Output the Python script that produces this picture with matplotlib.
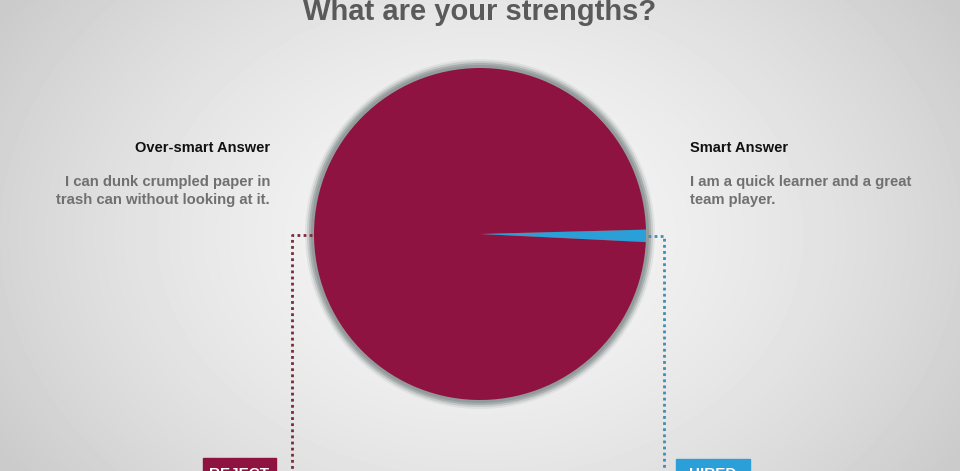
import matplotlib.pyplot as plt
from matplotlib.patches import Circle, Rectangle
import numpy as np

# chart data
title = 'What are your strengths?'
answers = ['Over-smart Answer', 'Smart Answer']
details = ['I can dunk crumpled paper in\ntrash can without looking at it.',
           'I am a quick learner and a great\nteam player.']
outcomes = ['REJECT', 'HIRED']
shares = [1.2, 98.8]          # smart, over-smart
colors = ['#2b9fd8', '#8f1341']

W, H = 960, 471
fig = plt.figure(figsize=(9.6, 4.71), dpi=100)
ax = fig.add_axes([0, 0, 1, 1])
ax.set_xlim(0, W)
ax.set_ylim(H, 0)
ax.axis('off')

# radial grey background
yy, xx = np.mgrid[0:H, 0:W]
d = np.sqrt(((xx - 480) / 560.0) ** 2 + ((yy - 235) / 420.0) ** 2)
bg = 0.965 - 0.17 * np.clip(d, 0, 1) ** 1.6
ax.imshow(bg, cmap='gray', vmin=0, vmax=1, extent=[0, W, H, 0], zorder=0)

cx, cy, r = 480, 234, 166

# soft grey rim around the pie
for extra, a in [(9, 0.15), (7, 0.3), (5, 0.55), (3, 0.8)]:
    ax.add_patch(Circle((cx, cy), r + extra, color='#8f9897', alpha=a,
                        lw=0, zorder=1))

ax.pie(shares, colors=colors, startangle=2.8, counterclock=False,
       center=(cx, cy), radius=r, frame=True,
       wedgeprops=dict(linewidth=0), normalize=True)
ax.set_xlim(0, W)
ax.set_ylim(H, 0)
ax.set_aspect('auto')
ax.axis('off')

font = 'Liberation Sans'
ax.text(480, 12, title, ha='center', va='center', fontsize=21,
        fontweight='bold', color='#5a5a5a', family=font)

ax.text(270, 148, answers[0], ha='right', va='center', fontsize=10.5,
        fontweight='bold', color='#111111', family=font)
ax.text(270, 191, details[0], ha='right', va='center', fontsize=10.7,
        fontweight='bold', color='#707070', family=font, linespacing=1.42,
        multialignment='right')
ax.text(690, 148, answers[1], ha='left', va='center', fontsize=10.5,
        fontweight='bold', color='#111111', family=font)
ax.text(690, 191, details[1], ha='left', va='center', fontsize=10.7,
        fontweight='bold', color='#707070', family=font, linespacing=1.42)

# dotted connectors
dots = (0, (1, 1.2))
ax.plot([312, 292, 292], [235, 235, H], color='#7b2a3c', lw=2,
        linestyle=dots, zorder=3)
ax.plot([648, 664, 664], [236, 236, H], color='#3c8fb2', lw=2,
        linestyle=dots, zorder=3)

# outcome boxes (cut by the bottom edge, as in the source image)
ax.add_patch(Rectangle((203, 458), 73, 20, color=colors[1], zorder=3))
ax.add_patch(Rectangle((676, 459), 74, 20, color=colors[0], zorder=3))
ax.text(239.5, 474, outcomes[0], ha='center', va='center', fontsize=11,
        fontweight='bold', color='white', family=font, zorder=4)
ax.text(713, 474, outcomes[1], ha='center', va='center', fontsize=11,
        fontweight='bold', color='white', family=font, zorder=4)

fig.savefig('out.png', dpi=100)
